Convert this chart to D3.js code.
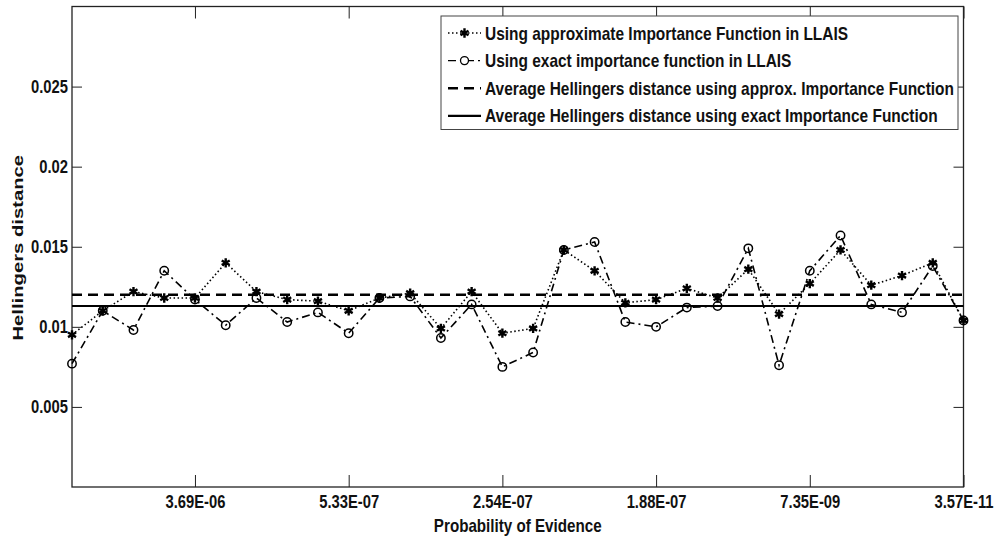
<!DOCTYPE html>
<html>
<head>
<meta charset="utf-8">
<script src="https://cdn.jsdelivr.net/npm/d3@7"></script>
<style>
    body { margin: 0; background: #fff; }
    svg text { font-family: "Liberation Sans", Arial, sans-serif; font-weight: bold; fill: #111; }
</style>
</head>
<body>
<svg id="chart" width="997" height="540"></svg>
<script>
// Probability of evidence cases, 1..30
const caseIndex = d3.range(1, 31);

// Hellingers distance, approximate importance function
const approxValues = [0.0095, 0.0110, 0.0122, 0.0118, 0.0118, 0.0140, 0.0122, 0.0117, 0.0116, 0.0110,
    0.0118, 0.0121, 0.0099, 0.0122, 0.0096, 0.0099, 0.0148, 0.0135, 0.0115, 0.0117,
    0.0124, 0.0118, 0.0136, 0.0108, 0.0127, 0.0148, 0.0126, 0.0132, 0.0140, 0.0104];

// Hellingers distance, exact importance function
const exactValues = [0.0077, 0.0110, 0.0098, 0.0135, 0.0117, 0.0101, 0.0118, 0.0103, 0.0109, 0.0096,
    0.0118, 0.0119, 0.0093, 0.0114, 0.0075, 0.0084, 0.0148, 0.0153, 0.0103, 0.0100,
    0.0112, 0.0113, 0.0149, 0.0076, 0.0135, 0.0157, 0.0114, 0.0109, 0.0138, 0.0104];

const avgApprox = 0.0120;
const avgExact = 0.0113;

const xTickValues = [5, 10, 15, 20, 25, 30];
const xTickLabels = ["3.69E-06", "5.33E-07", "2.54E-07", "1.88E-07", "7.35E-09", "3.57E-11"];
const yTickValues = [0.005, 0.01, 0.015, 0.02, 0.025];
const yTickLabels = ["0.005", "0.01", "0.015", "0.02", "0.025"];

const legendLabels = [
    "Using approximate Importance Function in LLAIS",
    "Using exact importance function in LLAIS",
    "Average Hellingers distance using approx. Importance Function",
    "Average Hellingers distance using exact Importance Function",
];

const CHART = {
    selector: "#chart",
    left: 72,
    right: 963.5,
    top: 6.5,
    bottom: 487,
};

const STYLE = {
    approx: { dash: "1.5,2.5", width: 1.6 },
    exact: { dash: "8,4,2,4", width: 1.6 },
    avgApprox: { dash: "10,6", width: 2.6 },
    avgExact: { dash: null, width: 2.2 },
};

// squeeze (or stretch) text horizontally, MATLAB prints a narrow bold font
function narrow(sel, factor) {
    sel.each(function () {
        const len = this.getComputedTextLength();
        d3.select(this)
            .attr("textLength", len * factor)
            .attr("lengthAdjust", "spacingAndGlyphs");
    });
}

function drawChart(chart) {
    const svg = d3.select(chart.selector);
    const x = d3.scaleLinear().domain([1, 30]).range([chart.left, chart.right]);
    const y = d3.scaleLinear().domain([0, 0.03]).range([chart.bottom, chart.top]);
    const w = chart.right - chart.left;
    const h = chart.bottom - chart.top;

    // Axes (ticks pointing inward, box on all sides)
    const axisStyle = (g) => {
        g.selectAll(".domain").remove();
        g.selectAll(".tick line").attr("stroke", "#222").attr("stroke-width", 1);
        g.selectAll(".tick text").attr("font-size", "18px").attr("fill", "#111").call(narrow, 0.82);
    };

    svg.append("g")
        .attr("transform", `translate(0,${chart.bottom})`)
        .call(d3.axisBottom(x).tickValues(xTickValues)
            .tickFormat((d, i) => xTickLabels[i]).tickSizeInner(-12).tickSizeOuter(0).tickPadding(8))
        .call(axisStyle);

    svg.append("g")
        .attr("transform", `translate(0,${chart.top})`)
        .call(d3.axisTop(x).tickValues(xTickValues).tickFormat("").tickSizeInner(-12).tickSizeOuter(0))
        .call(axisStyle);

    svg.append("g")
        .attr("transform", `translate(${chart.left},0)`)
        .call(d3.axisLeft(y).tickValues(yTickValues)
            .tickFormat((d, i) => yTickLabels[i]).tickSizeInner(-10).tickSizeOuter(0).tickPadding(4))
        .call(axisStyle);

    svg.append("g")
        .attr("transform", `translate(${chart.right},0)`)
        .call(d3.axisRight(y).tickValues(yTickValues).tickFormat("").tickSizeInner(-10).tickSizeOuter(0))
        .call(axisStyle);

    svg.append("rect")
        .attr("x", chart.left)
        .attr("y", chart.top)
        .attr("width", w)
        .attr("height", h)
        .attr("fill", "none")
        .attr("stroke", "#222")
        .attr("stroke-width", 1.3);

    // Axis titles
    svg.append("text")
        .attr("x", (chart.left + chart.right) / 2)
        .attr("y", 532)
        .attr("text-anchor", "middle")
        .attr("font-size", "18.5px")
        .text("Probability of Evidence")
        .call(narrow, 0.82);

    svg.append("text")
        .attr("transform", `translate(22.5,${(chart.top + chart.bottom) / 2 + 1}) rotate(-90)`)
        .attr("text-anchor", "middle")
        .attr("font-size", "15px")
        .text("Hellingers distance")
        .call(narrow, 1.35);

    // Average lines
    [[avgApprox, STYLE.avgApprox], [avgExact, STYLE.avgExact]].forEach(([v, s]) => {
        svg.append("line")
            .attr("x1", x(1)).attr("x2", x(30))
            .attr("y1", y(v)).attr("y2", y(v))
            .attr("stroke", "#000")
            .attr("stroke-width", s.width)
            .attr("stroke-dasharray", s.dash);
    });

    const line = d3.line().x((d, i) => x(caseIndex[i])).y((d) => y(d));

    // Exact series: dash-dot with open circles
    svg.append("path")
        .datum(exactValues)
        .attr("fill", "none")
        .attr("stroke", "#000")
        .attr("stroke-width", STYLE.exact.width)
        .attr("stroke-dasharray", STYLE.exact.dash)
        .attr("d", line);

    svg.append("g").selectAll("circle")
        .data(exactValues)
        .join("circle")
        .attr("cx", (d, i) => x(caseIndex[i]))
        .attr("cy", (d) => y(d))
        .attr("r", 4.2)
        .attr("fill", "none")
        .attr("stroke", "#000")
        .attr("stroke-width", 1.5);

    // Approx series: dotted with asterisks
    svg.append("path")
        .datum(approxValues)
        .attr("fill", "none")
        .attr("stroke", "#000")
        .attr("stroke-width", STYLE.approx.width)
        .attr("stroke-dasharray", STYLE.approx.dash)
        .attr("d", line);

    const star = d3.symbol().type(d3.symbolAsterisk).size(60);
    svg.append("g").selectAll("path")
        .data(approxValues)
        .join("path")
        .attr("transform", (d, i) => `translate(${x(caseIndex[i])},${y(d)})`)
        .attr("d", star)
        .attr("fill", "none")
        .attr("stroke", "#000")
        .attr("stroke-width", 2.4);

    drawLegend(svg, star);
}

function drawLegend(svg, star) {
    const box = { x: 441, y: 16, width: 517, height: 113.5 };
    const rowY = (i) => 33 + i * 27.6;
    const x0 = 448, x1 = 481;

    svg.append("rect")
        .attr("x", box.x)
        .attr("y", box.y)
        .attr("width", box.width)
        .attr("height", box.height)
        .attr("fill", "#fff")
        .attr("stroke", "#444")
        .attr("stroke-width", 1);

    const styles = [STYLE.approx, STYLE.exact, STYLE.avgApprox, STYLE.avgExact];
    legendLabels.forEach((label, i) => {
        svg.append("line")
            .attr("x1", x0).attr("x2", x1)
            .attr("y1", rowY(i)).attr("y2", rowY(i))
            .attr("stroke", "#000")
            .attr("stroke-width", i < 2 ? 1.4 : styles[i].width)
            .attr("stroke-dasharray", styles[i].dash);

        svg.append("text")
            .attr("x", 485)
            .attr("y", rowY(i))
            .attr("dy", "0.36em")
            .attr("font-size", "18.5px")
            .text(label)
            .call(narrow, 0.835);
    });

    svg.append("path")
        .attr("transform", `translate(${(x0 + x1) / 2},${rowY(0)})`)
        .attr("d", star)
        .attr("fill", "none")
        .attr("stroke", "#000")
        .attr("stroke-width", 2.4);

    svg.append("circle")
        .attr("cx", (x0 + x1) / 2)
        .attr("cy", rowY(1))
        .attr("r", 4)
        .attr("fill", "#fff")
        .attr("stroke", "#000")
        .attr("stroke-width", 1.3);
}

window.addEventListener("load", function () {
    drawChart(CHART);
});
</script>
</body>
</html>
